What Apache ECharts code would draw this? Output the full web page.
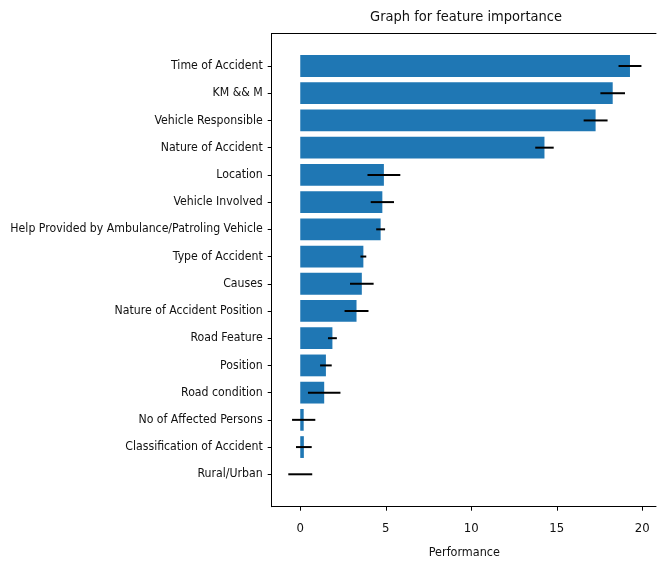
<!DOCTYPE html>
<html>
<head>
<meta charset="utf-8">
<script src="https://cdn.jsdelivr.net/npm/echarts@6/dist/echarts.min.js"></script>
<style>
  html, body { margin: 0; padding: 0; background: #fff; }
  #chart { width: 657px; height: 562px; }
</style>
</head>
<body>
<div id="chart"></div>
<script>
// feature names, top to bottom
var features = [
  'Time of Accident', 'KM && M', 'Vehicle Responsible', 'Nature of Accident',
  'Location', 'Vehicle Involved', 'Help Provided by Ambulance/Patroling Vehicle',
  'Type of Accident', 'Causes', 'Nature of Accident Position', 'Road Feature',
  'Position', 'Road condition', 'No of Affected Persons',
  'Classification of Accident', 'Rural/Urban'
];
// mean importance and std (error bar half width)
var importance = [19.28, 18.27, 17.27, 14.28, 4.89, 4.8, 4.7, 3.69, 3.6, 3.29, 1.88, 1.5, 1.4, 0.2, 0.21, 0.0];
var stdDev = [0.67, 0.72, 0.7, 0.54, 0.96, 0.68, 0.26, 0.17, 0.69, 0.7, 0.26, 0.34, 0.95, 0.68, 0.46, 0.7];
var xTicks = [0, 5, 10, 15, 20];

var font = "'DejaVu Sans Condensed', 'DejaVu Sans', sans-serif";

var errData = importance.map(function (v, i) {
  return [i, v - stdDev[i], v + stdDev[i]];
});

var spine = { show: true, onZero: false, lineStyle: { color: '#000', width: 1 } };

var chart = echarts.init(document.getElementById('chart'));

var option = {
  animation: false,
  title: {
    text: 'Graph for feature importance',
    left: 461,
    top: 5,
    textAlign: 'center',
    textStyle: { fontFamily: font, fontSize: 14.5, fontWeight: 'normal', color: '#111' }
  },
  grid: [
    // plotting area (right spine falls outside the picture)
    { left: 271.7, right: 0, top: 52.4, bottom: 74.1, outerBoundsMode: 'none', containLabel: false },
    // axes frame: left, top and bottom spines
    { left: 271.7, right: 1, top: 33.4, bottom: 55.3, outerBoundsMode: 'none', containLabel: false }
  ],
  xAxis: [
    {
      type: 'value',
      gridIndex: 0,
      min: -1.67,
      max: 20.86,
      offset: 18.8,
      axisLine: { show: false, onZero: false },
      axisTick: { show: true, length: 4, lineStyle: { color: '#000' }, customValues: xTicks },
      axisLabel: { customValues: xTicks, fontFamily: font, fontSize: 13, color: '#111', margin: 15 },
      splitLine: { show: false },
      name: 'Performance',
      nameLocation: 'middle',
      nameGap: 40,
      nameTextStyle: { fontFamily: font, fontSize: 12.5, color: '#111' }
    },
    {
      type: 'value', gridIndex: 1, position: 'bottom',
      axisLine: spine, axisTick: { show: false }, axisLabel: { show: false }, splitLine: { show: false }
    },
    {
      type: 'value', gridIndex: 1, position: 'top',
      axisLine: spine, axisTick: { show: false }, axisLabel: { show: false }, splitLine: { show: false }
    }
  ],
  yAxis: [
    {
      type: 'category',
      gridIndex: 0,
      data: features,
      inverse: true,
      axisLine: { show: false, onZero: false },
      axisTick: { show: true, alignWithLabel: true, length: 4, lineStyle: { color: '#000' } },
      axisLabel: { fontFamily: font, fontSize: 12.2, color: '#111', margin: 9 },
      splitLine: { show: false }
    },
    {
      type: 'value', gridIndex: 1, position: 'left',
      axisLine: spine, axisTick: { show: false }, axisLabel: { show: false }, splitLine: { show: false }
    }
  ],
  series: [
    {
      type: 'bar',
      xAxisIndex: 0,
      yAxisIndex: 0,
      data: importance,
      barWidth: '80%',
      itemStyle: { color: '#1f77b4' }
    },
    {
      type: 'custom',
      xAxisIndex: 0,
      yAxisIndex: 0,
      data: errData,
      encode: { y: 0, x: [1, 2] },
      z: 3,
      renderItem: function (params, api) {
        var a = api.coord([api.value(1), api.value(0)]);
        var b = api.coord([api.value(2), api.value(0)]);
        return {
          type: 'line',
          shape: { x1: a[0], y1: a[1], x2: b[0], y2: b[1] },
          style: { stroke: '#000', lineWidth: 2 }
        };
      }
    }
  ]
};

chart.setOption(option);
</script>
</body>
</html>
